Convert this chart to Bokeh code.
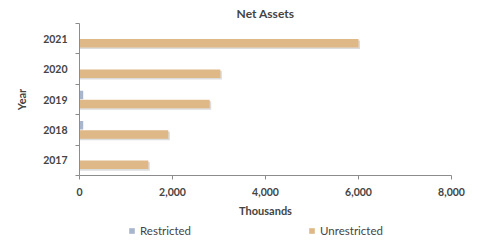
from bokeh.plotting import figure
from bokeh.layouts import column
from bokeh.models import (Legend, LegendItem, FixedTicker, NumeralTickFormatter, Range1d,
                          LinearAxis, CustomJSTickFormatter)
from bokeh.embed import file_html
from bokeh.resources import INLINE

years = [2017, 2018, 2019, 2020, 2021]
year_labels = ["2017", "2018", "2019", "2020", "2021"]
restricted = [0, 80, 80, 0, 0]
unrestricted = [1480, 1910, 2800, 3030, 6000]
x_ticks = [0, 2000, 4000, 6000, 8000]

FONT = "Lato"
TAN = "#DFB887"
BLUE = "#A7B6CC"
AXC = "#8c8c8c"

p = figure(width=478, height=219, output_backend="svg", toolbar_location=None,
           x_range=Range1d(0, 8000), y_range=Range1d(2016.5, 2021.5),
           y_axis_location=None,
           min_border_left=79, min_border_right=27, min_border_top=22, min_border_bottom=4)
p.title.text = "Net Assets"
p.title.align = "center"
p.title.text_font = FONT
p.title.text_font_size = "12px"
p.title.text_font_style = "bold"
p.title.offset = 0
p.title.standoff = 6

p.outline_line_color = None
p.xgrid.grid_line_color = None
p.ygrid.grid_line_color = None

off = 0.15
h = 0.28
sh_x = 8000 / 372 * 1.5
ys_u = [y - off for y in years]
ys_r = [y + off for y in years]
p.hbar(y=[y - 0.05 for y in ys_u], left=0, right=[v + sh_x for v in unrestricted], height=h,
       color="#9a9a9a", alpha=0.35, line_color=None)
p.hbar(y=ys_u, left=0, right=unrestricted, height=h, color=TAN, line_color=None)
p.hbar(y=ys_r, left=0, right=restricted, height=h, color=BLUE, line_color=None)

p.xaxis.ticker = FixedTicker(ticks=x_ticks)
p.xaxis.formatter = NumeralTickFormatter(format="0,0")
p.xaxis.axis_label = "Thousands"

ax_in = LinearAxis(ticker=FixedTicker(ticks=[2016.5, 2017.5, 2018.5, 2019.5, 2020.5, 2021.5]),
                   formatter=CustomJSTickFormatter(code="return ''"),
                   major_label_standoff=0, major_label_text_font_size="1px")
ax_out = LinearAxis(ticker=FixedTicker(ticks=years),
                    major_label_overrides={y: t for y, t in zip(years, year_labels)},
                    axis_line_color=None, major_tick_line_color=None,
                    major_label_standoff=2, axis_label="Year", axis_label_standoff=12)
p.add_layout(ax_in, "left")
p.add_layout(ax_out, "left")

for ax in (p.xaxis[0], ax_in, ax_out):
    if ax is not ax_out:
        ax.axis_line_color = AXC
        ax.major_tick_line_color = AXC
        ax.major_tick_in = 0
        ax.major_tick_out = 4
    ax.minor_tick_line_color = None
    ax.major_label_text_font = FONT
    ax.major_label_text_font_style = "bold"
    if ax is not ax_in:
        ax.major_label_text_font_size = "10.5px"
    ax.axis_label_text_font = FONT
    ax.axis_label_text_font_style = "bold"
    ax.axis_label_text_font_size = "11px"

p.xaxis.major_label_standoff = 8
p.xaxis.axis_label_standoff = 5

# legend strip
q = figure(width=478, height=23, output_backend="svg", toolbar_location=None,
           x_range=Range1d(0, 1), y_range=Range1d(0, 1),
           x_axis_location=None, y_axis_location=None,
           min_border=0, outline_line_color=None)
q.xgrid.grid_line_color = None
q.ygrid.grid_line_color = None
lr = q.hbar(y=[-5], left=[-5], right=[-4], height=0.5, color=BLUE, line_color=None)
lu = q.hbar(y=[-5], left=[-5], right=[-4], height=0.5, color=TAN, line_color=None)
legend = Legend(items=[LegendItem(label="Restricted", renderers=[lr]),
                       LegendItem(label="Unrestricted", renderers=[lu])],
                orientation="horizontal", location=(49, 5), spacing=117,
                glyph_width=7, glyph_height=7, label_standoff=5,
                label_text_font=FONT, label_text_font_size="11.5px",
                label_height=10, padding=0, margin=0,
                border_line_color=None, background_fill_alpha=0)
q.add_layout(legend, "center")

layout = column(p, q, spacing=0)
open("out.html", "w").write(file_html(layout, INLINE))
